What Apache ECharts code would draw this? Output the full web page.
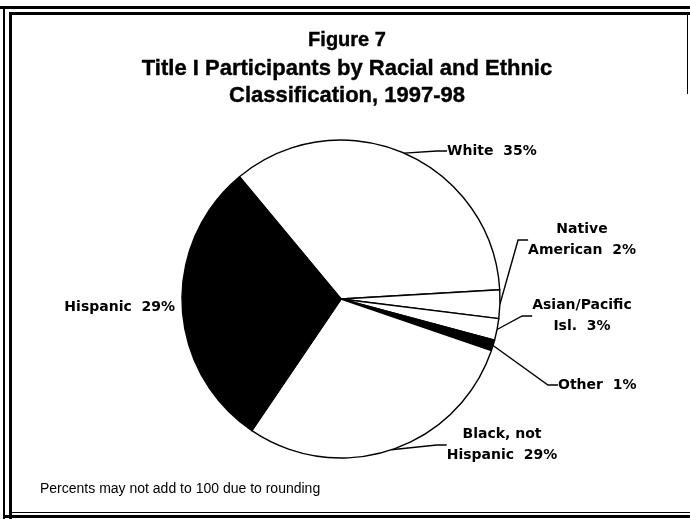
<!DOCTYPE html>
<html><head><meta charset="utf-8">
<script src="https://cdn.jsdelivr.net/npm/echarts@6/dist/echarts.min.js"></script>
<style>html,body{margin:0;padding:0;background:#fff}#c{width:690px;height:519px}</style>
</head><body><div id="c"></div>
<script>
// ---- data ----
const titleLines = ['Figure 7', 'Title I Participants by Racial and Ethnic', 'Classification, 1997-98'];
const categories = ['White', 'Native American', 'Asian/Pacific Isl.', 'Other', 'Black, not Hispanic', 'Hispanic'];
// slice sizes as drawn in the picture (percent of the circle)
const sliceValues = [35.1, 2.9, 2.2, 1.1, 29.2, 29.5];
// printed labels
const labelTexts = ['White  35%', 'Native\nAmerican  2%', 'Asian/Pacific\nIsl.  3%', 'Other  1%', 'Black, not\nHispanic  29%', 'Hispanic  29%'];
const footnote = 'Percents may not add to 100 due to rounding';

// ---- styling / layout ----
const sliceColors = ['#fff', '#fff', '#fff', '#000', '#fff', '#000'];
const showLeader = [true, true, true, true, true, false];
const labelPos = [
  { x: 447, y: 151, align: 'left' },
  { x: 582, y: 240, align: 'center' },
  { x: 582, y: 316, align: 'center' },
  { x: 558, y: 385, align: 'left' },
  { x: 502, y: 445, align: 'center' },
  { x: 175, y: 307, align: 'right' }
];

const chart = echarts.init(document.getElementById('c'), null, { renderer: 'canvas' });

const frame = [
  { l: 0, t: 6, w: 690, h: 3 },
  { l: 9, t: 12, w: 681, h: 3 },
  { l: 3, t: 6, w: 2, h: 513 },
  { l: 9, t: 12, w: 3, h: 507 },
  { l: 9, t: 512, w: 681, h: 1 },
  { l: 3, t: 515, w: 687, h: 3 },
  { l: 687, t: 14, w: 1, h: 80 }
];

const graphics = frame.map(f => ({
  type: 'rect', silent: true,
  shape: { x: f.l, y: f.t, width: f.w, height: f.h },
  style: { fill: '#000' }
}));
const titleFont = '"Liberation Sans", Arial, sans-serif';
const titleSpec = [
  { y: 40, size: 20 },
  { y: 69, size: 22 },
  { y: 96, size: 22 }
];
titleLines.forEach((t, i) => {
  graphics.push({
    type: 'text', silent: true, x: 347, y: titleSpec[i].y,
    style: { text: t, fontSize: titleSpec[i].size, fontWeight: 'bold', fontFamily: titleFont, fill: '#000',
      stroke: '#000', lineWidth: 0.4,
      align: 'center', verticalAlign: 'middle', textAlign: 'center', textVerticalAlign: 'middle' }
  });
});
graphics.push({
  type: 'text', silent: true, x: 40, y: 489,
  style: { text: footnote, fontSize: 14, fontFamily: titleFont, fill: '#000',
    align: 'left', verticalAlign: 'middle', textAlign: 'left', textVerticalAlign: 'middle' }
});

chart.setOption({
  animation: false,
  backgroundColor: '#fff',
  graphic: { elements: graphics },
  series: [{
    type: 'pie',
    silent: true,
    center: [341, 299],
    radius: 159,
    startAngle: 129.7,
    clockwise: true,
    avoidLabelOverlap: false,
    itemStyle: { borderColor: '#000', borderWidth: 1.4 },
    label: {
      show: true, position: 'outside',
      formatter: p => labelTexts[p.dataIndex],
      color: '#000', fontFamily: '"DejaVu Sans", sans-serif', fontWeight: 'bold', fontSize: 14, lineHeight: 21
    },
    labelLine: { show: true, length: 10, length2: 10, lineStyle: { color: '#000', width: 1.4 } },
    labelLayout: function (params) {
      const p = labelPos[params.dataIndex];
      return { x: p.x, y: p.y, align: p.align, verticalAlign: 'middle' };
    },
    data: categories.map((c, i) => ({
      name: c, value: sliceValues[i],
      itemStyle: { color: sliceColors[i] },
      labelLine: { show: showLeader[i] }
    }))
  }]
});
</script>
</body></html>
